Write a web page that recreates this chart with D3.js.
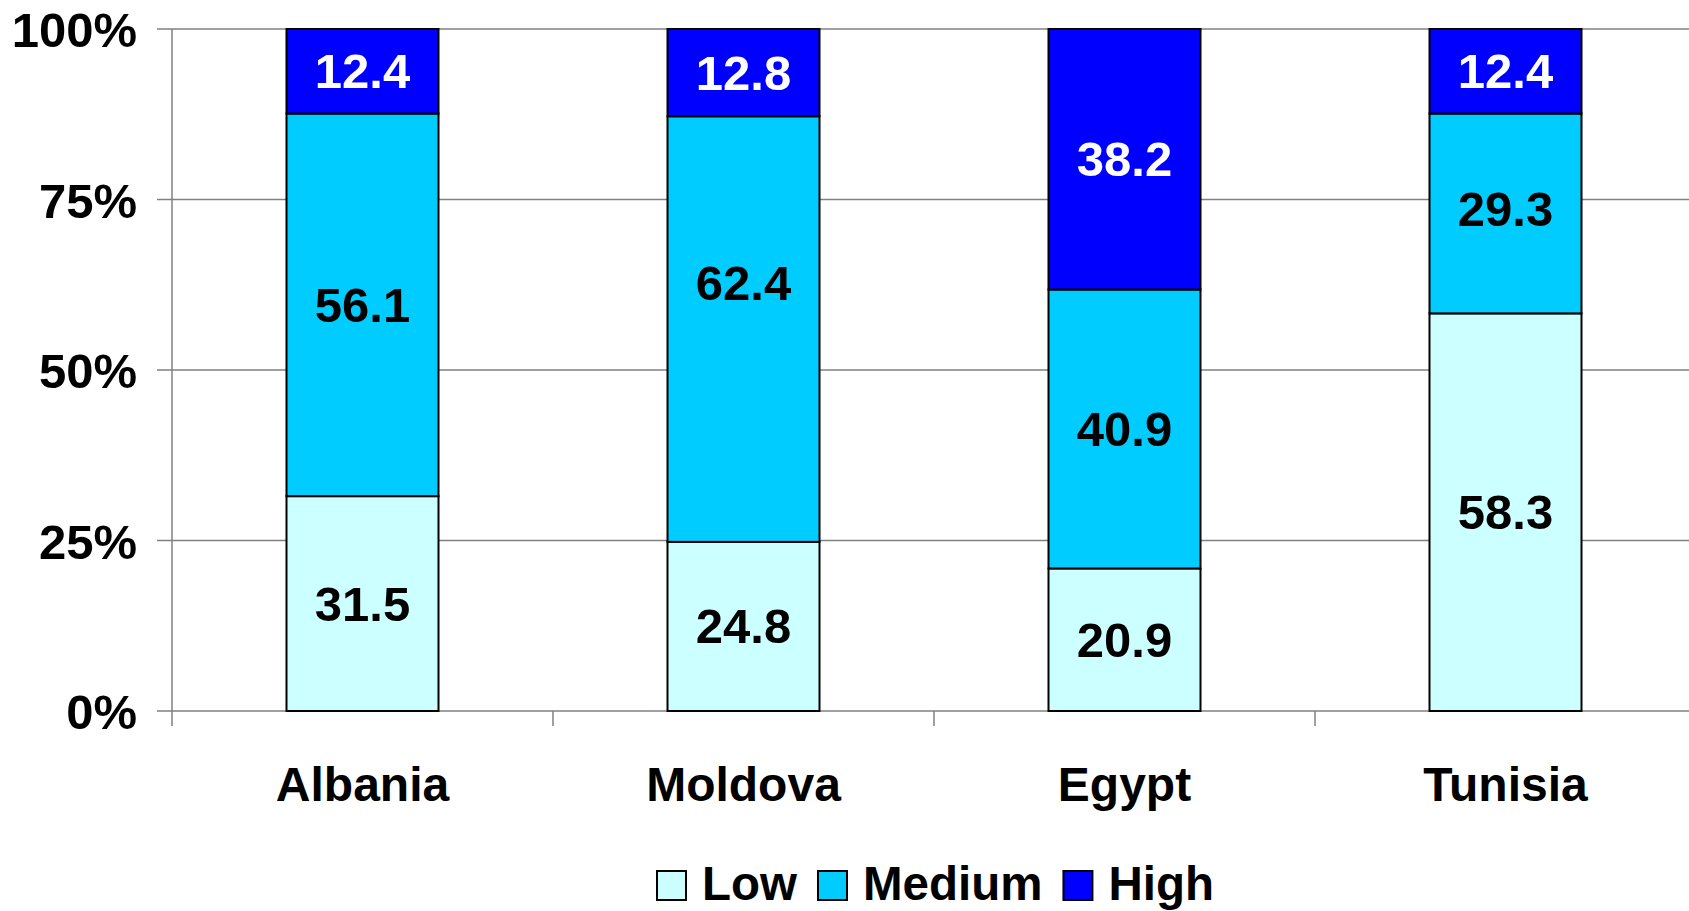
<!DOCTYPE html>
<html>
<head>
<meta charset="utf-8">
<script src="https://cdn.jsdelivr.net/npm/d3@7"></script>
<style>
  html, body { margin: 0; padding: 0; background: #fff; }
  svg { display: block; }
  text { font-family: "Liberation Sans", Arial, sans-serif; font-weight: bold; }
</style>
</head>
<body>
<svg id="chart" width="1689" height="911"></svg>
<script>
const categories = ["Albania", "Moldova", "Egypt", "Tunisia"];
const seriesNames = ["Low", "Medium", "High"];
const lowValues = [31.5, 24.8, 20.9, 58.3];
const mediumValues = [56.1, 62.4, 40.9, 29.3];
const highValues = [12.4, 12.8, 38.2, 12.4];
const yTicks = [0, 25, 50, 75, 100];
const yTickLabels = ["0%", "25%", "50%", "75%", "100%"];

(function () {
const colors = { Low: "#CCFFFF", Medium: "#00CCFF", High: "#0000FF" };
const labelColors = { Low: "#000", Medium: "#000", High: "#fff" };
// small manual label nudges (pixels) as seen in the original
const labelNudge = { "Moldova|Medium": -46, "Tunisia|Medium": -4 };

const svg = d3.select("#chart");
const plotL = 172, plotR = 1696, plotT = 29, plotB = 711;

const xb = d3.scaleBand().domain(categories).range([plotL, plotR]).padding(0);
const y = d3.scaleLinear().domain([0, 100]).range([plotB, plotT]);

const rows = categories.map((c, i) => ({ cat: c, Low: lowValues[i], Medium: mediumValues[i], High: highValues[i] }));
const stack = d3.stack().keys(seriesNames)(rows);

// gridlines
svg.append("g").selectAll("line").data(yTicks).join("line")
  .attr("x1", plotL - 15).attr("x2", 1689)
  .attr("y1", d => y(d)).attr("y2", d => y(d))
  .attr("stroke", "#808080").attr("stroke-width", 1.5);

// y axis line
svg.append("line").attr("x1", plotL).attr("x2", plotL).attr("y1", plotT).attr("y2", plotB + 15)
  .attr("stroke", "#808080").attr("stroke-width", 1.5);

// category tick marks (band boundaries)
svg.append("g").selectAll("line").data(categories.slice(1)).join("line")
  .attr("x1", d => xb(d)).attr("x2", d => xb(d))
  .attr("y1", plotB).attr("y2", plotB + 15)
  .attr("stroke", "#808080").attr("stroke-width", 1.5);

// y labels
svg.append("g").selectAll("text").data(yTicks).join("text")
  .attr("x", 137).attr("y", d => y(d) + 18)
  .attr("text-anchor", "end").attr("font-size", 49).attr("fill", "#000")
  .text((d, i) => yTickLabels[i]);

// bars
const bw = 152;
stack.forEach(layer => {
  const key = layer.key;
  const g = svg.append("g");
  g.selectAll("rect").data(layer).join("rect")
    .attr("x", d => xb(d.data.cat) + xb.bandwidth() / 2 - bw / 2)
    .attr("width", bw)
    .attr("y", d => y(d[1]))
    .attr("height", d => y(d[0]) - y(d[1]))
    .attr("fill", colors[key]).attr("stroke", "#000").attr("stroke-width", 2);
  g.selectAll("text").data(layer).join("text")
    .attr("x", d => xb(d.data.cat) + xb.bandwidth() / 2)
    .attr("y", d => (y(d[0]) + y(d[1])) / 2 + 17 + (labelNudge[d.data.cat + "|" + key] || 0))
    .attr("text-anchor", "middle").attr("font-size", 49).attr("fill", labelColors[key])
    .text(d => d3.format(".1f")(d.data[key]));
});

// category labels
svg.append("g").selectAll("text").data(categories).join("text")
  .attr("x", d => xb(d) + xb.bandwidth() / 2).attr("y", 801)
  .attr("text-anchor", "middle").attr("font-size", 48).attr("fill", "#000")
  .text(d => d);

// legend
const lg = svg.append("g");
let cx = 657;
seriesNames.forEach(name => {
  lg.append("rect").attr("x", cx).attr("y", 871).attr("width", 29).attr("height", 29)
    .attr("fill", colors[name]).attr("stroke", "#000").attr("stroke-width", 2);
  const t = lg.append("text").attr("x", cx + 45).attr("y", 900)
    .attr("font-size", 47.5).attr("fill", "#000").text(name);
  const w = t.node().getComputedTextLength();
  cx = cx + 45 + w + 21;
});
})();
</script>
</body>
</html>
